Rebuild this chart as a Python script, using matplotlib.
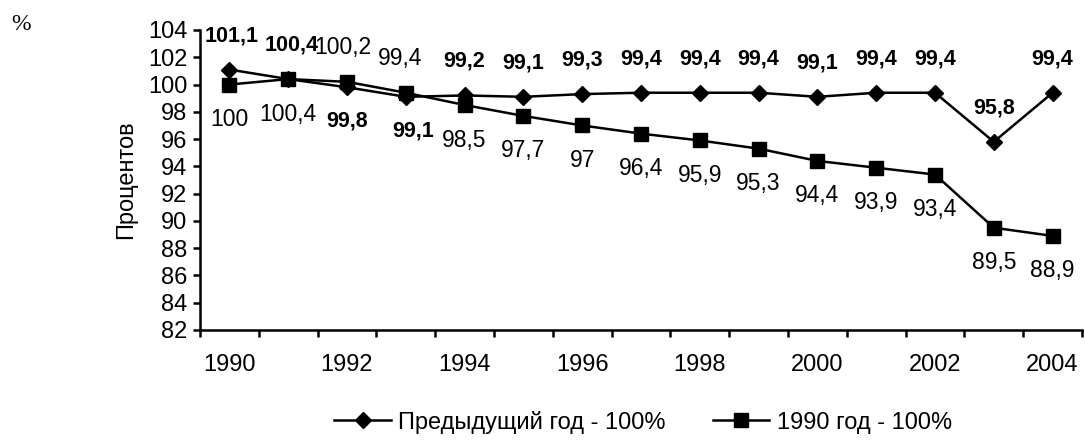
import matplotlib

matplotlib.use("Agg")

import matplotlib.pyplot as plt
import numpy as np

years = list(range(1990, 2005))
prev_year = [101.1, 100.4, 99.8, 99.1, 99.2, 99.1, 99.3, 99.4, 99.4, 99.4, 99.1, 99.4, 99.4, 95.8, 99.4]
base_1990 = [100, 100.4, 100.2, 99.4, 98.5, 97.7, 97, 96.4, 95.9, 95.3, 94.4, 93.9, 93.4, 89.5, 88.9]
# which labels sit on the "other" side of their point
flip = {2, 3}

plt.rcParams["font.family"] = ["Liberation Sans", "DejaVu Sans"]
FS = 17

fig = plt.figure(figsize=(10.85, 4.41), dpi=100)
ax = fig.add_axes([200 / 1085, 111 / 441, 882 / 1085, 300 / 441])

x = np.arange(len(years))
ax.plot(x, prev_year, color="black", lw=1.8, marker="D", ms=8.5,
        label="Предыдущий год - 100%", clip_on=False, zorder=3)
ax.plot(x, base_1990, color="black", lw=1.8, marker="s", ms=10,
        label="1990 год - 100%", clip_on=False, zorder=3)

fmt = lambda v: f"{v:g}".replace(".", ",")
for i, v in enumerate(prev_year):
    dy = -34 if i in flip else 34
    dx = {0: 2, 1: 3, 3: 7}.get(i, 0)
    ax.annotate(fmt(v), (i, v), xytext=(dx, dy), textcoords="offset pixels",
                ha="center", va="center", fontsize=15.5, fontweight="bold",
                annotation_clip=False)
for i, v in enumerate(base_1990):
    dy = 34 if i in flip else -35
    dx = {2: -4, 3: -6}.get(i, 0)
    ax.annotate(fmt(v), (i, v), xytext=(dx, dy), textcoords="offset pixels",
                ha="center", va="center", fontsize=16.5,
                annotation_clip=False)

ax.set_xlim(-0.5, len(years) - 0.5)
ax.set_ylim(82, 104)
ax.set_yticks(range(82, 105, 2))
ax.set_xticks(x[::2])
ax.set_xticklabels([str(y) for y in years[::2]])
ax.set_xticks(np.arange(-0.5, len(years), 1), minor=True)
ax.tick_params(axis="x", which="major", length=0, pad=17, labelsize=FS)
ax.tick_params(axis="x", which="minor", length=5, width=1.8, direction="out")
ax.tick_params(axis="y", length=5, width=1.8, labelsize=FS, pad=4)

for s in ("top", "right"):
    ax.spines[s].set_visible(False)
for s in ("left", "bottom"):
    ax.spines[s].set_linewidth(1.8)

ax.set_ylabel("Процентов", fontsize=FS, labelpad=8)
fig.text(11 / 1085, 1 - 24 / 441, "%", fontsize=17, family="Liberation Serif",
         va="center", ha="left")

fig.legend(loc="center", bbox_to_anchor=(643 / 1085, 1 - 422 / 441), ncol=2,
           frameon=False, fontsize=FS, handlelength=2.4, columnspacing=2.0,
           handletextpad=0.3)

fig.savefig("out.png", dpi=100)
